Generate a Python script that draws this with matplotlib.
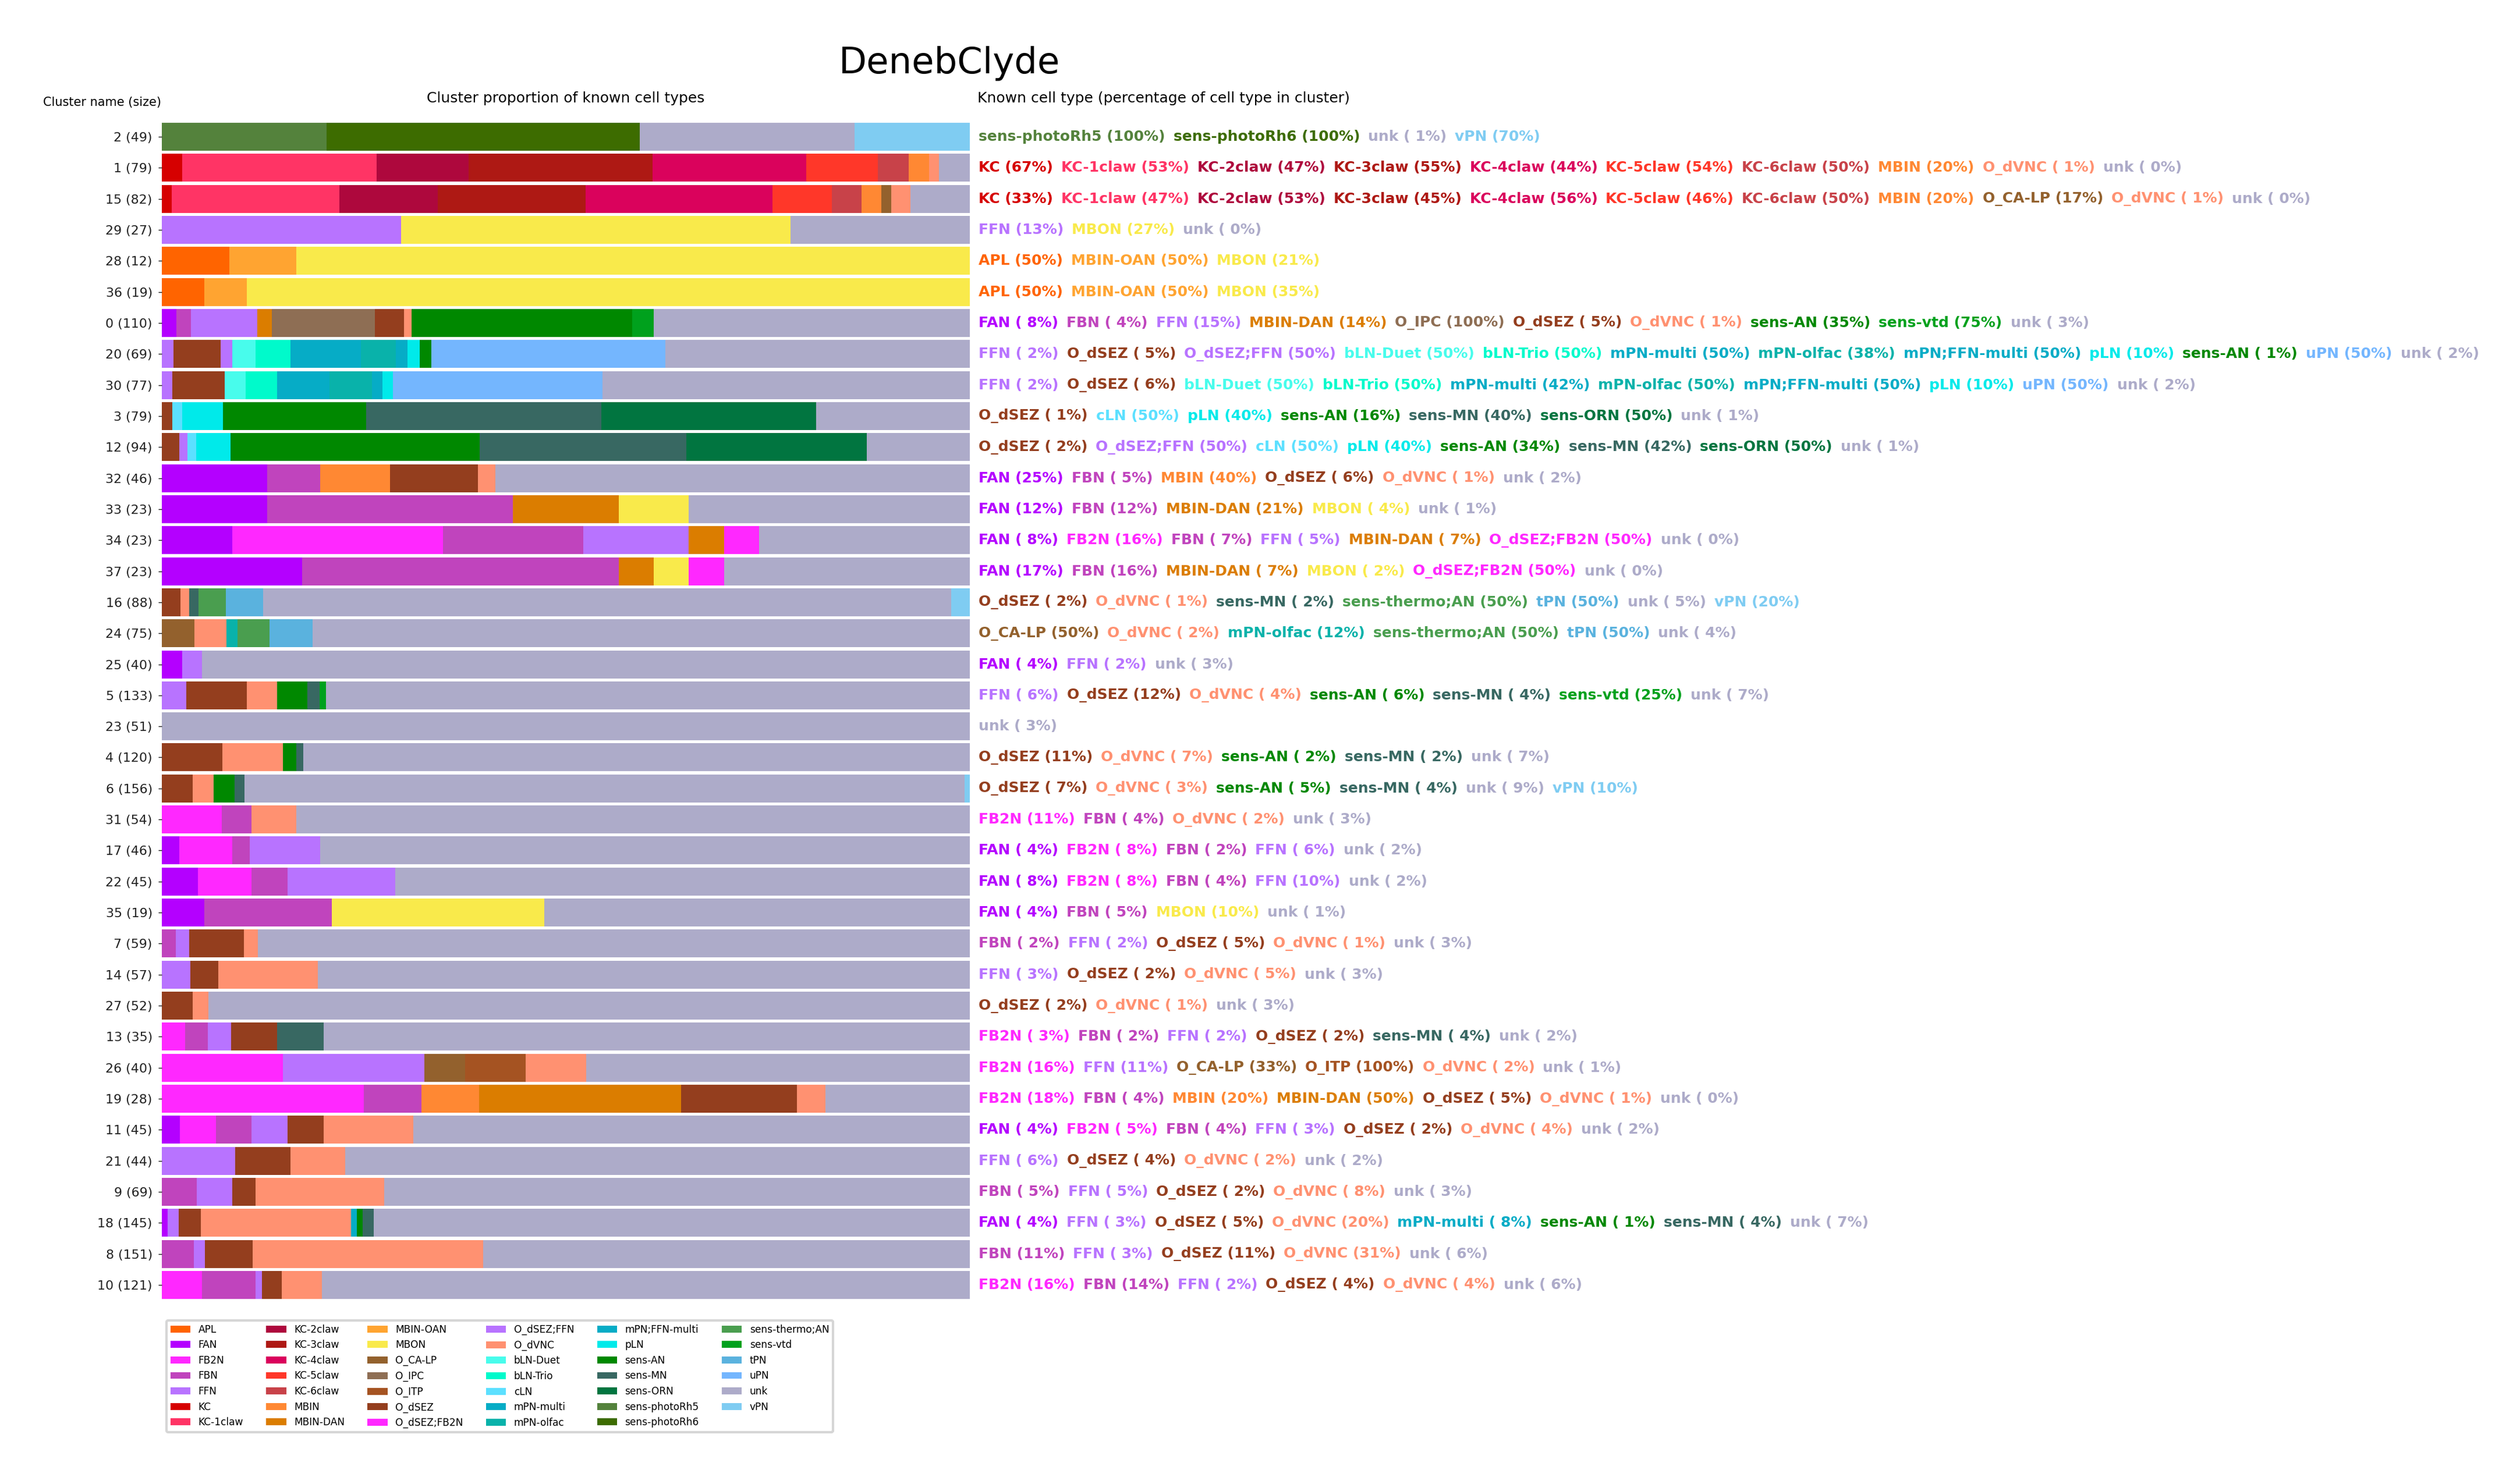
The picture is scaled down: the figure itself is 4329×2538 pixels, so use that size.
import matplotlib
matplotlib.use("Agg")
import matplotlib.pyplot as plt
import matplotlib.patches as mpatches

# ---------------- data ----------------
cell_types = ["APL", "FAN", "FB2N", "FBN", "FFN", "KC", "KC-1claw", "KC-2claw", "KC-3claw",
              "KC-4claw", "KC-5claw", "KC-6claw", "MBIN", "MBIN-DAN", "MBIN-OAN", "MBON",
              "O_CA-LP", "O_IPC", "O_ITP", "O_dSEZ", "O_dSEZ;FB2N", "O_dSEZ;FFN", "O_dVNC",
              "bLN-Duet", "bLN-Trio", "cLN", "mPN-multi", "mPN-olfac", "mPN;FFN-multi", "pLN",
              "sens-AN", "sens-MN", "sens-ORN", "sens-photoRh5", "sens-photoRh6",
              "sens-thermo;AN", "sens-vtd", "tPN", "uPN", "unk", "vPN"]

type_colors = {
    "APL": "#ff6400", "FAN": "#b400ff", "FB2N": "#ff28ff", "FBN": "#c044bd", "FFN": "#b873ff",
    "KC": "#d60000", "KC-1claw": "#ff3465", "KC-2claw": "#ae083d", "KC-3claw": "#ae1914",
    "KC-4claw": "#da025c", "KC-5claw": "#ff3729", "KC-6claw": "#c84249", "MBIN": "#ff8833",
    "MBIN-DAN": "#db7d00", "MBIN-OAN": "#ffa431", "MBON": "#f9ea4b", "O_CA-LP": "#93612d",
    "O_IPC": "#8e6e54", "O_ITP": "#a55322", "O_dSEZ": "#943e1e", "O_dSEZ;FB2N": "#ff28ff",
    "O_dSEZ;FFN": "#b873ff", "O_dVNC": "#ff9171", "bLN-Duet": "#48fcec", "bLN-Trio": "#00facb",
    "cLN": "#5ce0ff", "mPN-multi": "#06acc6", "mPN-olfac": "#09b2aa", "mPN;FFN-multi": "#06acc6",
    "pLN": "#00eaea", "sens-AN": "#008800", "sens-MN": "#386862", "sens-ORN": "#017540",
    "sens-photoRh5": "#54823c", "sens-photoRh6": "#3d6c00", "sens-thermo;AN": "#4a9e4f",
    "sens-vtd": "#00a11d", "tPN": "#5ab2de", "uPN": "#74b6fe", "unk": "#adabc9", "vPN": "#7fccf2",
}

cluster_labels = ["2 (49)", "1 (79)", "15 (82)", "29 (27)", "28 (12)", "36 (19)", "0 (110)",
                  "20 (69)", "30 (77)", "3 (79)", "12 (94)", "32 (46)", "33 (23)", "34 (23)",
                  "37 (23)", "16 (88)", "24 (75)", "25 (40)", "5 (133)", "23 (51)", "4 (120)",
                  "6 (156)", "31 (54)", "17 (46)", "22 (45)", "35 (19)", "7 (59)", "14 (57)",
                  "27 (52)", "13 (35)", "26 (40)", "19 (28)", "11 (45)", "21 (44)", "9 (69)",
                  "18 (145)", "8 (151)", "10 (121)"]

row_types = [
    ["sens-photoRh5", "sens-photoRh6", "unk", "vPN"],
    ["KC", "KC-1claw", "KC-2claw", "KC-3claw", "KC-4claw", "KC-5claw", "KC-6claw", "MBIN", "O_dVNC", "unk"],
    ["KC", "KC-1claw", "KC-2claw", "KC-3claw", "KC-4claw", "KC-5claw", "KC-6claw", "MBIN", "O_CA-LP", "O_dVNC", "unk"],
    ["FFN", "MBON", "unk"],
    ["APL", "MBIN-OAN", "MBON"],
    ["APL", "MBIN-OAN", "MBON"],
    ["FAN", "FBN", "FFN", "MBIN-DAN", "O_IPC", "O_dSEZ", "O_dVNC", "sens-AN", "sens-vtd", "unk"],
    ["FFN", "O_dSEZ", "O_dSEZ;FFN", "bLN-Duet", "bLN-Trio", "mPN-multi", "mPN-olfac", "mPN;FFN-multi", "pLN", "sens-AN", "uPN", "unk"],
    ["FFN", "O_dSEZ", "bLN-Duet", "bLN-Trio", "mPN-multi", "mPN-olfac", "mPN;FFN-multi", "pLN", "uPN", "unk"],
    ["O_dSEZ", "cLN", "pLN", "sens-AN", "sens-MN", "sens-ORN", "unk"],
    ["O_dSEZ", "O_dSEZ;FFN", "cLN", "pLN", "sens-AN", "sens-MN", "sens-ORN", "unk"],
    ["FAN", "FBN", "MBIN", "O_dSEZ", "O_dVNC", "unk"],
    ["FAN", "FBN", "MBIN-DAN", "MBON", "unk"],
    ["FAN", "FB2N", "FBN", "FFN", "MBIN-DAN", "O_dSEZ;FB2N", "unk"],
    ["FAN", "FBN", "MBIN-DAN", "MBON", "O_dSEZ;FB2N", "unk"],
    ["O_dSEZ", "O_dVNC", "sens-MN", "sens-thermo;AN", "tPN", "unk", "vPN"],
    ["O_CA-LP", "O_dVNC", "mPN-olfac", "sens-thermo;AN", "tPN", "unk"],
    ["FAN", "FFN", "unk"],
    ["FFN", "O_dSEZ", "O_dVNC", "sens-AN", "sens-MN", "sens-vtd", "unk"],
    ["unk"],
    ["O_dSEZ", "O_dVNC", "sens-AN", "sens-MN", "unk"],
    ["O_dSEZ", "O_dVNC", "sens-AN", "sens-MN", "unk", "vPN"],
    ["FB2N", "FBN", "O_dVNC", "unk"],
    ["FAN", "FB2N", "FBN", "FFN", "unk"],
    ["FAN", "FB2N", "FBN", "FFN", "unk"],
    ["FAN", "FBN", "MBON", "unk"],
    ["FBN", "FFN", "O_dSEZ", "O_dVNC", "unk"],
    ["FFN", "O_dSEZ", "O_dVNC", "unk"],
    ["O_dSEZ", "O_dVNC", "unk"],
    ["FB2N", "FBN", "FFN", "O_dSEZ", "sens-MN", "unk"],
    ["FB2N", "FFN", "O_CA-LP", "O_ITP", "O_dVNC", "unk"],
    ["FB2N", "FBN", "MBIN", "MBIN-DAN", "O_dSEZ", "O_dVNC", "unk"],
    ["FAN", "FB2N", "FBN", "FFN", "O_dSEZ", "O_dVNC", "unk"],
    ["FFN", "O_dSEZ", "O_dVNC", "unk"],
    ["FBN", "FFN", "O_dSEZ", "O_dVNC", "unk"],
    ["FAN", "FFN", "O_dSEZ", "O_dVNC", "mPN-multi", "sens-AN", "sens-MN", "unk"],
    ["FBN", "FFN", "O_dSEZ", "O_dVNC", "unk"],
    ["FB2N", "FBN", "FFN", "O_dSEZ", "O_dVNC", "unk"],
]

row_counts = [
    [10, 19, 13, 7],
    [2, 19, 9, 18, 15, 7, 3, 2, 1, 3],
    [1, 17, 10, 15, 19, 6, 3, 2, 1, 2, 6],
    [8, 13, 6],
    [1, 1, 10],
    [1, 1, 17],
    [2, 2, 9, 2, 14, 4, 1, 30, 3, 43],
    [1, 4, 1, 2, 3, 6, 3, 1, 1, 1, 20, 26],
    [1, 5, 2, 3, 5, 4, 1, 1, 20, 35],
    [1, 1, 4, 14, 23, 21, 15],
    [2, 1, 1, 4, 29, 24, 21, 12],
    [6, 3, 4, 5, 1, 27],
    [3, 7, 3, 2, 8],
    [2, 6, 4, 3, 1, 1, 6],
    [4, 9, 1, 1, 1, 7],
    [2, 1, 1, 3, 4, 75, 2],
    [3, 3, 1, 3, 4, 61],
    [1, 1, 38],
    [4, 10, 5, 5, 2, 1, 106],
    [51],
    [9, 9, 2, 1, 99],
    [6, 4, 4, 2, 139, 1],
    [4, 2, 3, 45],
    [1, 3, 1, 4, 37],
    [2, 3, 2, 6, 32],
    [1, 3, 5, 10],
    [1, 1, 4, 1, 52],
    [2, 2, 7, 46],
    [2, 1, 49],
    [1, 1, 1, 2, 2, 28],
    [6, 7, 2, 3, 3, 19],
    [7, 2, 2, 7, 4, 1, 5],
    [1, 2, 2, 2, 2, 5, 31],
    [4, 3, 3, 34],
    [3, 3, 2, 11, 50],
    [1, 2, 4, 27, 1, 1, 2, 107],
    [6, 2, 9, 43, 91],
    [6, 8, 1, 3, 6, 97],
]

row_pcts = [
    [100, 100, 1, 70],
    [67, 53, 47, 55, 44, 54, 50, 20, 1, 0],
    [33, 47, 53, 45, 56, 46, 50, 20, 17, 1, 0],
    [13, 27, 0],
    [50, 50, 21],
    [50, 50, 35],
    [8, 4, 15, 14, 100, 5, 1, 35, 75, 3],
    [2, 5, 50, 50, 50, 50, 38, 50, 10, 1, 50, 2],
    [2, 6, 50, 50, 42, 50, 50, 10, 50, 2],
    [1, 50, 40, 16, 40, 50, 1],
    [2, 50, 50, 40, 34, 42, 50, 1],
    [25, 5, 40, 6, 1, 2],
    [12, 12, 21, 4, 1],
    [8, 16, 7, 5, 7, 50, 0],
    [17, 16, 7, 2, 50, 0],
    [2, 1, 2, 50, 50, 5, 20],
    [50, 2, 12, 50, 50, 4],
    [4, 2, 3],
    [6, 12, 4, 6, 4, 25, 7],
    [3],
    [11, 7, 2, 2, 7],
    [7, 3, 5, 4, 9, 10],
    [11, 4, 2, 3],
    [4, 8, 2, 6, 2],
    [8, 8, 4, 10, 2],
    [4, 5, 10, 1],
    [2, 2, 5, 1, 3],
    [3, 2, 5, 3],
    [2, 1, 3],
    [3, 2, 2, 2, 4, 2],
    [16, 11, 33, 100, 2, 1],
    [18, 4, 20, 50, 5, 1, 0],
    [4, 5, 4, 3, 2, 4, 2],
    [6, 4, 2, 2],
    [5, 5, 2, 8, 3],
    [4, 3, 5, 20, 8, 1, 4, 7],
    [11, 3, 11, 31, 6],
    [16, 14, 2, 4, 4, 6],
]

# ---------------- figure ----------------
W, H = 4329, 2538
DPI = 300
fig = plt.figure(figsize=(W / DPI, H / DPI), dpi=DPI)
fig.patch.set_facecolor("white")


def fx(px):
    return px / W


def fy(py):
    return 1 - py / H


ax_top, ax_bot, ax_left, ax_right = 205.7, 2237.3, 278.0, 1666.0
ax = fig.add_axes([fx(ax_left), fy(ax_bot), (ax_right - ax_left) / W, (ax_bot - ax_top) / H])

n = len(cluster_labels)
for i in range(n):
    size = sum(row_counts[i])
    left = 0.0
    for t, c in zip(row_types[i], row_counts[i]):
        w = c / size
        ax.barh(i, w, left=left, height=0.9, color=type_colors[t], edgecolor="none", linewidth=0)
        left += w

ax.set_xlim(0, 1)
ax.set_ylim(n - 0.45, -0.55)
ax.set_yticks(range(n))
ax.set_yticklabels(cluster_labels)
ax.tick_params(axis="y", labelsize=5.3, length=1.5, width=0.35, pad=2.4, colors="#222222")
ax.tick_params(axis="x", bottom=False, labelbottom=False)
for sp in ax.spines.values():
    sp.set_visible(False)

# headers and title
fig.text(fx(1631), fy(126), "DenebClyde", ha="center", va="baseline", fontsize=15)
fig.text(fx(277), fy(176), "Cluster name (size)", ha="right", va="center", fontsize=5.0)
fig.text(fx(972), fy(169), "Cluster proportion of known cell types", ha="center", va="center", fontsize=6.0)
fig.text(fx(1679), fy(169), "Known cell type (percentage of cell type in cluster)", ha="left",
         va="center", fontsize=6.0)

# coloured per-row annotations
fig.canvas.draw()
renderer = fig.canvas.get_renderer()
gap = 14.0
for i in range(n):
    ydisp = ax.transData.transform((0, i))[1]
    x = 1681.0
    for t, p in zip(row_types[i], row_pcts[i]):
        s = f"{t} ({p:2d}%)"
        txt = fig.text(x / W, ydisp / H, s, color=type_colors[t], fontsize=6, fontweight="bold",
                       ha="left", va="center")
        bb = txt.get_window_extent(renderer=renderer)
        x = bb.x1 + gap

# legend
handles = [mpatches.Patch(facecolor=type_colors[t], edgecolor="none", label=t) for t in cell_types]
fig.legend(handles=handles, loc="upper left", bbox_to_anchor=(fx(286), fy(2269)), ncol=6,
           fontsize=4.1, borderaxespad=0, frameon=True, columnspacing=2.3)

fig.savefig("out.png", dpi=DPI)
